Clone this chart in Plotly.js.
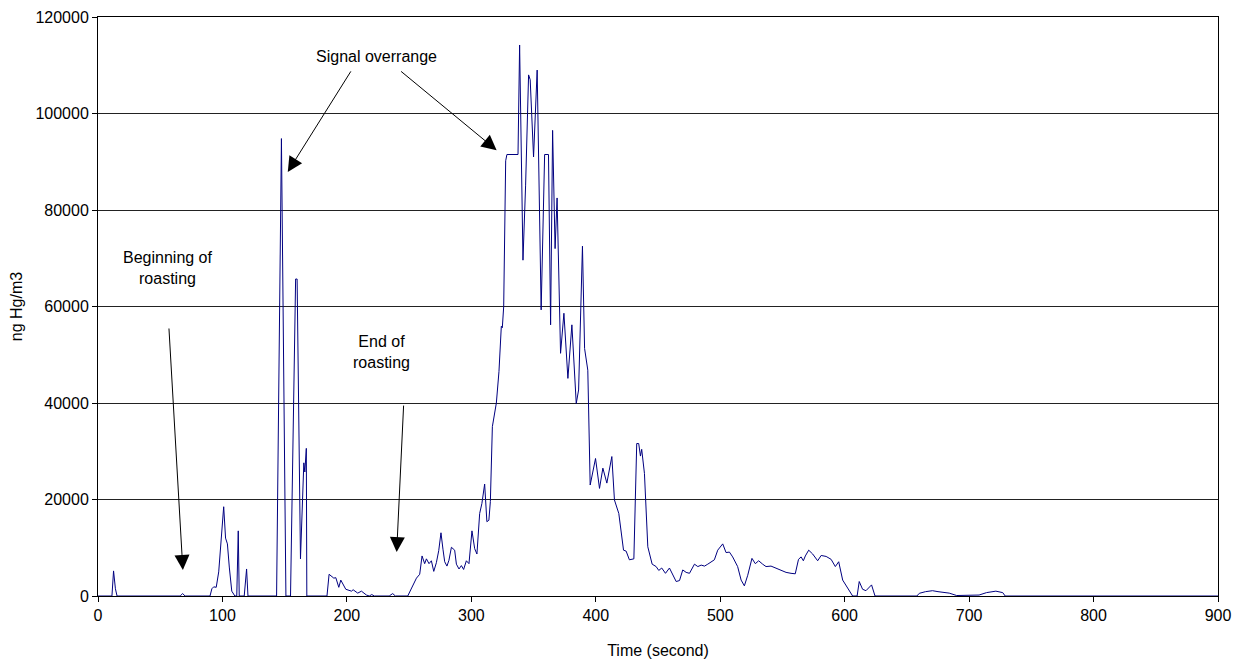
<!DOCTYPE html>
<html>
<head>
<meta charset="utf-8">
<script src="https://cdn.plot.ly/plotly-3.0.1.min.js"></script>
<style>html,body{margin:0;padding:0;background:#fff;}#chart{width:1240px;height:661px;}</style>
</head>
<body>
<div id="chart"></div>
<script>
// Time (second)
const timeSec = [
  0, 10, 11.2, 12.5, 14, 15.3, 66, 68, 70, 90, 91.5, 93, 95, 97, 99, 101, 102.5, 104, 105.5, 107.5, 110,
  111.5, 112.7, 113.5, 117.5, 119.4, 120.5, 143.5, 147.4, 148.8, 151, 154.7, 158.8, 160, 162.7, 165.4, 166.2, 167.4, 167.8,
  184, 185.7, 189.5, 191.1, 193.5, 195.1, 199.1, 203.7, 205, 208.7, 211.7, 215.7, 218, 220, 222, 234, 236.8, 239, 248.9,
  252.9, 255.9, 258.5, 260.4, 262.5, 263.9, 266, 267.9, 269.8, 271.9, 273.8, 275.6, 277.2, 278.6, 280.4, 282, 284,
  286.6, 288, 290.1, 292, 293.8, 296, 298.1, 300.5, 302.7, 304.5, 306.7, 308.5, 310.7, 312.5, 314.1, 315.3, 316.9,
  320.1, 322.2, 324.1, 324.9, 326, 327.6, 328.6, 337.5, 338.8, 341.5, 343.6, 346, 347.3, 350, 352.9, 356.1, 358.9, 362,
  363.7, 365.3, 367.3, 368.9, 371.7, 374.4, 377.6, 380.8, 384.3, 386.2, 389.3, 391, 393.6, 395.5, 399.8, 403, 405.7,
  408.9, 412.9, 415, 418.5, 422.3, 424.4, 427, 430.6, 432.9, 434.5, 435.9, 436.9, 439.1, 441.8, 443.7, 445.3, 448.5,
  450.6, 453, 456, 459.2, 461.9, 464.6, 467.3, 469.9, 472.6, 475.3, 479.3, 482, 484.7, 487.4, 490, 492.7, 495.3, 498,
  502, 504.7, 507.4, 510, 514, 516.8, 519.4, 522.1, 525.5, 528.2, 530.9, 534.1, 536.8, 540.8, 544.9, 548.9, 552.9,
  556.9, 560.3, 562.9, 565, 566.8, 568.4, 571.1, 574.3, 578.3, 581.1, 585.1, 589.1, 592.5, 595.2, 598.4, 602.4, 606.4,
  610, 611.7, 614.4, 617.1, 621.6, 624.4, 658, 660, 665, 670.6, 675, 684, 690, 700, 708, 714, 718, 721.5, 727, 729, 900
];
// ng Hg/m3
const concentration = [
  0, 0, 0, 5200, 1500, 0, 0, 500, 0, 0, 1500, 1900, 1800, 5000, 12000, 18500, 12000, 10800, 6000, 1000, 0,
  0, 13500, 0, 0, 5600, 0, 0, 94800, 61500, 0, 0, 65700, 65700, 7700, 27600, 25700, 30600, 0,
  0, 4500, 3700, 3800, 1800, 3300, 1400, 1000, 1300, 600, 1000, 200, 0, 300, 0, 0, 500, 0, 0,
  2000, 3700, 4500, 8300, 6700, 7700, 6700, 7300, 5100, 6900, 9400, 13100, 9700, 7100, 6200, 7400, 10100,
  9500, 6600, 5600, 6300, 5500, 7300, 6700, 13500, 9800, 8700, 17100, 19200, 23200, 15400, 15700, 19600, 35100,
  40000, 46500, 55900, 55600, 60000, 90200, 91500, 91500, 114200, 69600, 85000, 108000, 107000, 91000, 109000, 59300, 91500, 91500,
  56200, 96500, 72000, 82500, 50300, 58600, 45100, 56200, 39900, 42700, 72500, 51300, 46800, 23000, 28500, 22300, 26500,
  23400, 28900, 19900, 17100, 9500, 9300, 7500, 7700, 31600, 31600, 29000, 30400, 25400, 10200, 8100, 6600, 6100,
  5300, 5800, 4700, 5800, 4400, 3000, 3200, 5400, 4900, 4700, 6600, 6100, 6400, 6200, 6600, 7100, 7500, 9500,
  10800, 9000, 9100, 8100, 6100, 3300, 2100, 4300, 7800, 6700, 7300, 6600, 6100, 6200, 5800, 5400, 4900,
  4700, 4600, 7600, 8100, 7300, 8300, 9500, 8700, 7300, 8400, 8200, 7600, 6100, 7100, 3300, 1600, 0,
  0, 3000, 1400, 1100, 2300, 0, 0, 560, 900, 1100, 900, 600, 100, 100, 200, 700, 900, 1000, 700, 0, 0
];
const xTickVals = [0, 100, 200, 300, 400, 500, 600, 700, 800, 900];
const yTickVals = [0, 20000, 40000, 60000, 80000, 100000, 120000];

const FONT = 'Liberation Sans, Arial, sans-serif';
const trace = {
  x: timeSec, y: concentration, type: 'scatter', mode: 'lines',
  line: {color: '#000080', width: 1}, hoverinfo: 'skip'
};
const arrowStyle = {showarrow: true, arrowhead: 2, arrowsize: 3, arrowwidth: 1, arrowcolor: '#000', standoff: 0, text: ''};
const txtFont = {family: FONT, size: 16, color: '#000'};
const layout = {
  width: 1240, height: 661,
  margin: {l: 98, r: 22, t: 17, b: 65},
  paper_bgcolor: '#fff', plot_bgcolor: '#fff',
  showlegend: false,
  font: {family: FONT, size: 16, color: '#000'},
  xaxis: {
    range: [0, 900], tickvals: xTickVals, ticks: 'outside', ticklen: 5, tickcolor: '#000',
    showline: true, linecolor: '#000', linewidth: 1, mirror: true, showgrid: false, zeroline: false,
    tickfont: txtFont,
    title: {text: 'Time (second)', font: txtFont, standoff: 21}
  },
  yaxis: {
    range: [0, 120000], tickvals: yTickVals, tickformat: 'd', ticks: 'outside', ticklen: 5, tickcolor: '#000',
    showline: true, linecolor: '#000', linewidth: 1, mirror: true,
    showgrid: true, gridcolor: '#222', gridwidth: 1, zeroline: false,
    tickfont: txtFont,
    title: {text: 'ng Hg/m3', font: txtFont, standoff: 8}
  },
  annotations: [
    {x: 224, y: 111800, text: 'Signal overrange', showarrow: false, font: txtFont},
    {x: 56.2, y: 68000, text: 'Beginning of<br>roasting', showarrow: false, font: txtFont},
    {x: 228, y: 50600, text: 'End of<br>roasting', showarrow: false, font: txtFont},
    Object.assign({x: 152.5, y: 87900, ax: 64, ay: -102}, arrowStyle),
    Object.assign({x: 320.3, y: 92400, ax: -97, ay: -80}, arrowStyle),
    Object.assign({x: 68.2, y: 5390, ax: -14, ay: -243}, arrowStyle),
    Object.assign({x: 240, y: 9100, ax: 7, ay: -148}, arrowStyle)
  ]
};
Plotly.newPlot('chart', [trace], layout, {displayModeBar: false, staticPlot: true});
</script>
</body>
</html>
